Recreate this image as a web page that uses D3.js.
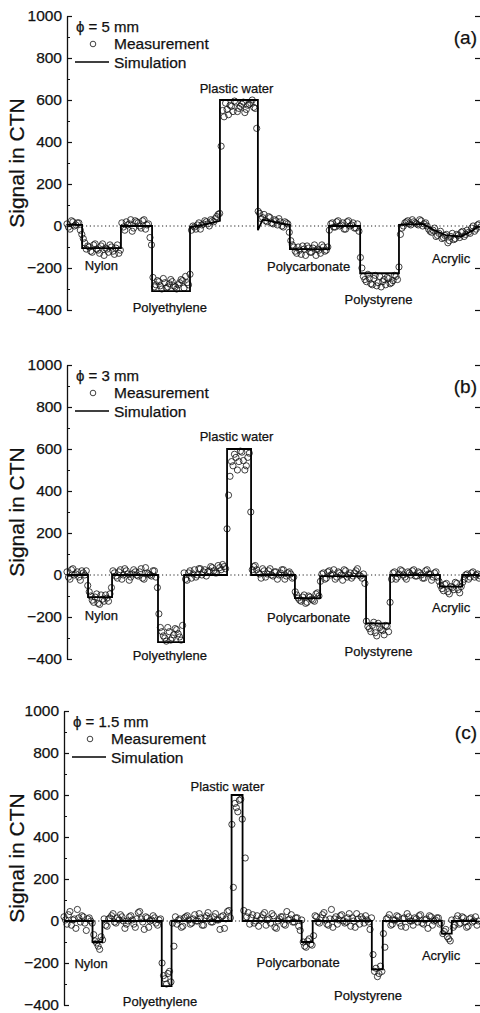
<!DOCTYPE html>
<html>
<head>
<meta charset="utf-8">
<script src="https://cdnjs.cloudflare.com/ajax/libs/d3/7.8.5/d3.min.js"></script>
<style>
  body { margin: 0; background: #fff; }
  svg text { font-family: "Liberation Sans", Arial, sans-serif; fill: #111; stroke: #111; stroke-width: 0.25px; }
</style>
</head>
<body>
<script>
/* global d3 */
(function() {
  'use strict';

  // ---- data ----
  const panelTags = ['(a)', '(b)', '(c)'];
  const diameters = ['5', '3', '1.5'];
  const materials = ['Nylon', 'Polyethylene', 'Plastic water', 'Polycarbonate', 'Polystyrene', 'Acrylic'];
  const yTicks = [-400, -200, 0, 200, 400, 600, 800, 1000];
  const yMinor = [-300, -100, 100, 300, 500, 700, 900];

  // measured signal (CTN), one value per detector sample; the second
  // array of each panel sits half a sample to the right
  const measA = [
    10, -15, 20, 5, 15,
    -40,
    -80, -95, -120, -90, -110, -130, -85, -105, -125, -100, -135, -90,
    -115,
    -5, 20, 10, -25, 25, 15, -10, 30, 5,
    -55,
    -245, -280, -265, -300, -270, -290, -255, -285, -300, -270, -260, -240, -280,
    -20, -5, 5, -15, 10, 20, 0, 25, 35, 55,
    380,
    520, 555, 575, 545, 590, 560, 580, 540, 575, 585, 565,
    465,
    60, 40, 25, 45, 15, 30, 5, 20, -5, 15,
    -30,
    -90, -120, -100, -135, -110, -95, -125, -105, -140, -115, -90, -120, -100,
    10, -5, 20, 0, 15, -15, 25, 5, -10, 10,
    -150, -240, -265, -250, -280, -235, -270, -290, -255, -245, -275, -260, -240,
    -195,
    -10, 15, 25, 5, 20, 10, 30, 0, 15,
    -15, -30, -10, -45, -25, -55, -40, -70, -35, -60, -45, -30, -50,
    -20, -35, 0, -15, 10
  ];
  const measA2 = [
    -5, 25, 0, 15, -20,
    -60, -110, -100, -125, -85, -115, -95, -140, -110, -90, -120, -105, -130,
    15, -20, 5, 30, -10, 20, 0, 25, -15, 10,
    -90,
    -290, -260, -285, -250, -295, -275, -265, -290, -280, -255, -295, -270,
    -230,
    0, -15, 15, 5, 25, 10, 30, 20, 45,
    60,
    550, 585, 530, 570, 595, 545, 570, 590, 555, 580, 600, 560,
    70,
    35, 55, 20, 40, 10, 25, 35, 0, 20, 10,
    -70, -100, -130, -115, -95, -140, -105, -125, -90, -110, -130, -100, -115,
    -20, 15, -5, 25, 5, -15, 20, 0, 15, -10, -25,
    -200, -255, -230, -275, -250, -285, -240, -265, -280, -250, -270, -235, -255,
    -40, 0, 20, 10, 30, 15, 5, 25, 10, 0,
    -25, -20, -50, -35, -60, -45, -80, -50, -65, -40, -55, -25, -40,
    -30, -10, -25, 5, -5
  ];
  const measB = [
    15, -20, 30, 5, -10, 20, 0,
    -50,
    -100, -130, -90, -140, -115, -95, -125,
    -60,
    10, -15, 25, 0, 20, -25, 5, 15, -5, 30, -20, 10, 0, 20, -10,
    -185,
    -270, -300, -250, -310, -285, -260, -295,
    -240,
    -20, 10, -15, 25, 0, 30, 15, -5, 20, 35, 10, 45, 25, 40,
    220,
    470, 520, 560, 540, 585, 500, 560,
    300,
    40, 25, 5, 30, -10, 20, 0, 15, -20, 10, 25, -5, 15, -15,
    -80, -110, -125, -95, -130, -105, -120, -90, -100,
    5, -20, 15, 0, 25, -10, 10, -25, 20, 0, -15, 10, 30, -5, 5,
    -220, -255, -240, -275, -230, -260, -285, -245,
    -130,
    10, -20, 5, 20, -10, 15, 0, 25, -5, 10, -15, 20, 5, -25, 10, -10,
    -50, -75, -40, -90, -60, -35, -70, -55,
    -20, 5, -10, 15, 0, -15
  ];
  const measB2 = [
    -10, 25, 0, 15, -25, 10, 20,
    -80, -120, -105, -135, -95, -125, -110, -90,
    20, -5, 15, -20, 30, 5, -10, 25, 0, 15, -15, 35, 5, -5, 20,
    -60,
    -250, -290, -315, -270, -300, -255, -280, -310,
    10, -25, 20, 5, -10, 30, 0, 25, 15, 40, 20, 10, 35, 50, 30,
    380, 540, 575, 500, 590, 545, 520, 580,
    25, 45, 10, -15, 20, 5, 30, -5, 15, 0, 25, -20, 10, 5, -10,
    -95, -120, -105, -135, -100, -115, -125, -85,
    -30, 10, -15, 20, 5, -20, 15, 0, 25, -10, 10, -5, 20, 0, -15, -40,
    -245, -270, -225, -290, -250, -265, -240, -270,
    -20, 15, -10, 25, 0, -20, 10, 20, -5, 15, 0, -15, 25, 5, -10, 15, -30,
    -65, -45, -80, -55, -70, -40, -85,
    -35, 0, -20, 10, -10, 5, -5
  ];
  const measC = [
    20, -15, 45, 5, -35, 15, 25, -10, 10, 0,
    -65, -105, -135,
    -90,
    -20, 10, 25, -5, 15, 30, 0, -15, 20, 5, -30, 40, 10, -40, 15, 0, 25, -10, 5,
    -200,
    -275, -250, -290,
    -120,
    -15, 10, -25, 20, 5, -10, 30, 0, 15, -20, 25, 10, -5, 35, 5, 20, -35, 45, 15,
    160, 540, 575, 485, 300,
    40, 15, -10, 25, 5, 30, -20, 10, 35, -30, 0, 20, -15, 45, 10, -5, 15, -25, 5,
    -120, -95, -110,
    -70,
    20, -10, 30, 5, -20, 55, 10, -15, 25, 0, -5, 35, 15, -30, 10, 20, -10, 5, -40,
    -160, -225, -250, -240,
    -125,
    15, -20, 5, 25, -10, 10, -30, 20, 0, 15, -5, 30, -15, 10, 25, -20, 5, 15, -10,
    -50, -75, -95,
    -30, 10, -15, 20, -5, -25, 15, 0, -20
  ];
  const measC2 = [
    5, 30, -20, 10, 55, -5, 20, -45, 15, -10,
    -95, -120, -75,
    10, -25, 15, 35, -10, 5, 20, -35, 0, 25, -15, 10, 45, -5, 20, -30, 5, 15, -20, 10,
    -260, -300, -240,
    -10, 20, 5, -30, 15, 25, -15, 10, 0, 35, -20, 15, 40, -5, 20, 5, -40, 25, 10, 50,
    460, 560, 520, 580,
    50, 20, -15, 30, 0, -25, 15, 40, 5, -10, 25, -35, 10, 20, -20, 5, 30, -5, 15, -45,
    -100, -125, -85, -115,
    25, -5, 15, 40, -15, 10, -30, 20, 5, 30, -10, 15, -25, 0, 35, -15, 10, 25, -5, 15,
    -240, -265, -215,
    -60, 10, 30, -15, 5, 20, -25, 15, 35, 0, -20, 10, 25, -10, 5, -35, 20, 0, 15, -15,
    -60, -40, -85,
    5, -20, 25, -10, 15, -30, 10, -5, 20, 0
  ];

  // simulated profile vertices: [sample, CTN]
  const simA = [
    [0, 5], [5.1, 5], [5.1, -105], [18.2, -105], [18.2, 0], [28.7, 0], [28.7, -310],
    [41.5, -310], [41.5, -5], [46, 5], [51.6, 25], [51.6, 600], [64.4, 600], [64.4, -20],
    [66, 30], [75.2, 5], [75.2, -110], [88.4, -110], [88.4, 0], [98.9, 0], [98.9, -225],
    [112, -225], [112, 5], [120, 10], [124, -20], [128, -45], [133, -50], [137, -20], [139, 0]
  ];
  const simB = [
    [0, 0], [7.1, 0], [7.1, -105], [15.2, -105], [15.2, 0], [30.7, 0], [30.7, -320],
    [39.5, -320], [39.5, 0], [54, 0], [54, 600], [62.1, 600], [62.1, 0], [76.9, 0],
    [76.9, -110], [85.4, -110], [85.4, -5], [100.9, -5], [100.9, -230], [109, -230],
    [109, 0], [125.8, 0], [125.8, -55], [133.3, -55], [133.3, 0], [139, 0]
  ];
  const simC = [
    [0, 0], [9.6, 0], [9.6, -100], [12.9, -100], [12.9, 0], [32.9, 0], [32.9, -310],
    [36.2, -310], [36.2, 0], [56.4, 0], [56.4, 600], [60.1, 600], [60.1, 0], [80, 0],
    [80, -100], [83.7, -100], [83.7, 0], [103.6, 0], [103.6, -230], [107.3, -230],
    [107.3, 0], [127.1, 0], [127.1, -60], [130.5, -60], [130.5, 0], [139, 0]
  ];

  // ---- layout ----
  const W = 480;
  const H = 1013;
  const plotH = 294;

  // where each material name sits, in [sample, CTN]
  const labelAtA = [[11.6, -210], [34.7, -410], [57.2, 633], [81.5, -214], [105.1, -371], [129.6, -176]];
  const labelAtB = [[11.6, -214], [34.7, -405], [57.2, 638], [81.5, -224], [105.1, -386], [129.6, -176]];
  const labelAtC = [[9.1, -224], [32.3, -405], [55.0, 619], [78.8, -219], [102.3, -376], [126.9, -186]];

  const panels = [
    {tag: panelTags[0], d: diameters[0], meas: [measA, measA2], sim: simA, lab: labelAtA, top: 16, left: 67, right: 479},
    {tag: panelTags[1], d: diameters[1], meas: [measB, measB2], sim: simB, lab: labelAtB, top: 365, left: 67, right: 479},
    {tag: panelTags[2], d: diameters[2], meas: [measC, measC2], sim: simC, lab: labelAtC, top: 711, left: 64, right: 477}
  ];

  const svg =
    d3.select('body')
      .append('svg')
      .attr('width', W)
      .attr('height', H);

  panels.forEach(function(p) {
    const x = d3.scaleLinear().domain([0, 139]).range([p.left, p.right]);
    const y = d3.scaleLinear().domain([-400, 1000]).range([p.top + plotH, p.top]);
    const g = svg.append('g');

    // dotted zero line
    g.append('line')
      .attr('x1', p.left).attr('x2', W)
      .attr('y1', y(0)).attr('y2', y(0))
      .attr('stroke', '#222')
      .attr('stroke-width', 1)
      .attr('stroke-dasharray', '1.2,2.6');

    // left axis, ticks pointing in
    const yAxis = d3.axisLeft(y)
      .tickValues(yTicks)
      .tickFormat(d3.format('d'))
      .tickSize(-5)
      .tickSizeOuter(0)
      .tickPadding(5);
    const ax = g.append('g')
      .attr('transform', 'translate(' + p.left + ',0)')
      .call(yAxis);
    ax.select('.domain').attr('stroke', '#111').attr('stroke-width', 1.3);
    ax.selectAll('.tick line').attr('stroke', '#111').attr('stroke-width', 1.2);
    ax.selectAll('.tick text')
      .attr('font-family', '"Liberation Sans", Arial, sans-serif')
      .attr('font-size', 15.5)
      .attr('fill', '#111');
    g.append('g')
      .attr('transform', 'translate(' + p.left + ',0)')
      .call(d3.axisLeft(y).tickValues(yMinor).tickSize(-3).tickFormat(''))
      .call(s => s.select('.domain').remove())
      .selectAll('.tick line').attr('stroke', '#111');

    // right axis sits just past the window edge, only the ticks show
    g.append('g')
      .attr('transform', 'translate(481,0)')
      .call(d3.axisRight(y).tickValues(yTicks).tickSize(-6).tickSizeOuter(0).tickFormat(''))
      .selectAll('.tick line').attr('stroke', '#111').attr('stroke-width', 1.2);

    // axis title
    g.append('text')
      .attr('transform', 'translate(24,' + (p.top + plotH / 2) + ') rotate(-90)')
      .attr('text-anchor', 'middle')
      .attr('font-size', 21)
      .text('Signal in CTN');

    // measurements
    p.meas.forEach(function(series, k) {
      g.append('g')
        .selectAll('circle')
        .data(series)
        .join('circle')
        .attr('cx', (d, i) => x(i + k * 0.5))
        .attr('cy', (d) => y(d))
        .attr('r', 3.1)
        .attr('fill', 'none')
        .attr('stroke', '#111')
        .attr('stroke-width', 0.8);
    });

    // simulation
    const line = d3.line().x((d) => x(d[0])).y((d) => y(d[1]));
    g.append('path')
      .datum(p.sim)
      .attr('d', line)
      .attr('fill', 'none')
      .attr('stroke', '#000')
      .attr('stroke-width', 1.8);

    // material names
    g.append('g')
      .selectAll('text')
      .data(materials)
      .join('text')
      .attr('x', (d, i) => x(p.lab[i][0]))
      .attr('y', (d, i) => y(p.lab[i][1]))
      .attr('text-anchor', 'middle')
      .attr('font-size', 13)
      .text((d) => d);

    // legend
    const lx = p.left;
    const ly = p.top;
    g.append('text')
      .attr('x', lx + 9).attr('y', ly + 16)
      .attr('font-size', 15)
      .text('\u03D5 = ' + p.d + ' mm');
    g.append('circle')
      .attr('cx', lx + 26).attr('cy', ly + 28).attr('r', 2.8)
      .attr('fill', 'none').attr('stroke', '#111').attr('stroke-width', 0.8);
    g.append('text')
      .attr('x', lx + 47).attr('y', ly + 33)
      .attr('font-size', 15.5)
      .text('Measurement');
    g.append('line')
      .attr('x1', lx + 8).attr('x2', lx + 42)
      .attr('y1', ly + 46).attr('y2', ly + 46)
      .attr('stroke', '#000').attr('stroke-width', 1.4);
    g.append('text')
      .attr('x', lx + 47).attr('y', ly + 52)
      .attr('font-size', 15.5)
      .text('Simulation');

    // panel tag
    g.append('text')
      .attr('x', 477).attr('y', ly + 28)
      .attr('text-anchor', 'end')
      .attr('font-size', 19)
      .text(p.tag);
  });
}());
</script>
</body>
</html>
